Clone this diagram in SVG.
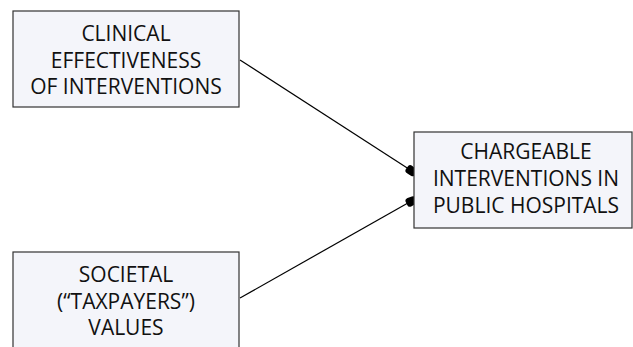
<svg xmlns="http://www.w3.org/2000/svg" width="633" height="347" viewBox="0 0 633 347">
<style>
.box{fill:#f4f5fa;stroke:#333;stroke-width:1.2}
.t{font-family:"Open Sans","Liberation Sans",sans-serif;font-size:21px;fill:#111;text-anchor:middle}
.c{stroke:#000;stroke-width:1.2;fill:none}
</style>
<defs>
<marker id="blob" viewBox="0 0 12 10" refX="10" refY="5" markerWidth="12" markerHeight="10" markerUnits="userSpaceOnUse" orient="auto">
<path d="M0.5,2.5 Q1,0.3 4,0.5 L8.5,1.2 Q12,2.5 11.8,5.5 Q11.5,9.3 8,9.5 L3,9.6 Q0,9.5 0.3,6 Z" fill="#000"/>
</marker>
</defs>
<g id="connectors">
<line class="c" x1="240" y1="60" x2="415" y2="173" marker-end="url(#blob)"/>
<line class="c" x1="240" y1="298" x2="415" y2="199" marker-end="url(#blob)"/>
</g>
<g id="n1">
<rect class="box" x="13" y="11" width="226" height="96"/>
<text class="t" x="126" y="41">CLINICAL</text>
<text class="t" x="126" y="68">EFFECTIVENESS</text>
<text class="t" x="126" y="94">OF INTERVENTIONS</text>
</g>
<g id="n2">
<rect class="box" x="414" y="132" width="218" height="96"/>
<text class="t" x="526" y="159">CHARGEABLE</text>
<text class="t" x="526" y="186">INTERVENTIONS IN</text>
<text class="t" x="526" y="213">PUBLIC HOSPITALS</text>
</g>
<g id="n3">
<rect class="box" x="13" y="252" width="226" height="110"/>
<text class="t" x="126" y="282">SOCIETAL</text>
<text class="t" x="126" y="309">(“TAXPAYERS”)</text>
<text class="t" x="126" y="335">VALUES</text>
</g>
</svg>
